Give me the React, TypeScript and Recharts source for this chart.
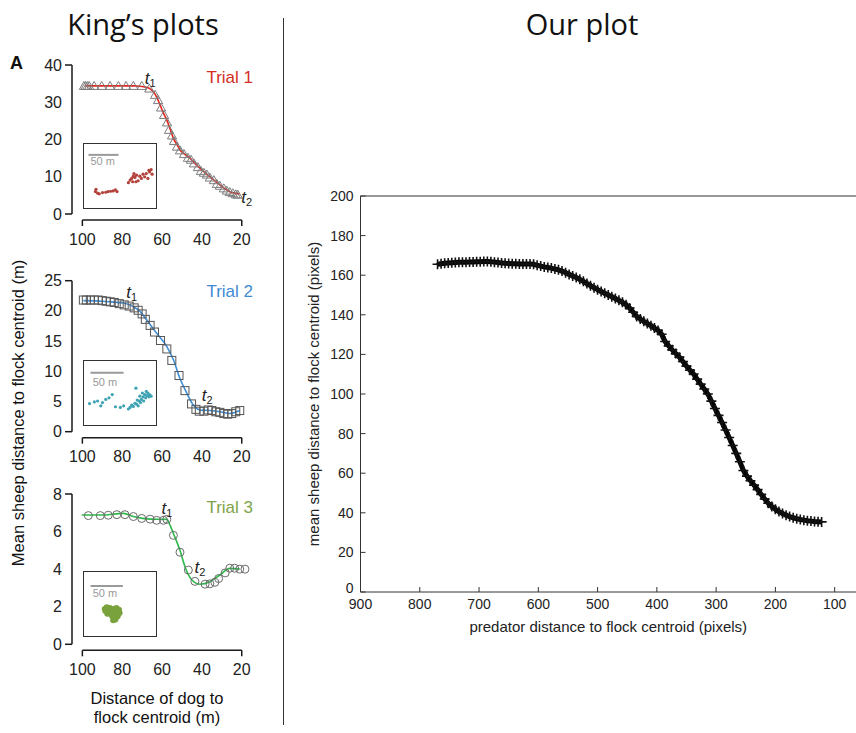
import React from 'react';
import {
  ComposedChart,
  ScatterChart,
  Line,
  Scatter,
  XAxis,
  YAxis,
  ReferenceLine,
  ReferenceDot,
} from 'recharts';

// ---------- King's plots (distance of dog to centroid, m -> mean sheep distance, m)
const kingXTicks = [100, 80, 60, 40, 20];

// trial 1: fitted line + raw points (triangles)
const t1FitX = [98.6, 90, 80, 74, 71, 68, 66, 64.4, 62.5, 61, 59.5, 57.6, 56, 54.3, 52.5, 51, 48.5, 46, 43.5, 41, 38.5, 36, 33.5, 31, 28.5, 26, 23.5, 21];
const t1FitY = [34.4, 34.4, 34.4, 34.4, 34.3, 34.0, 33.6, 32.8, 31.2, 29.3, 27.3, 25.2, 22.9, 20.3, 18.6, 17.2, 16, 15, 13.6, 12.3, 11.1, 10, 8.9, 7.8, 6.8, 6, 5.6, 5.4];
const t1PtsX = [99.2, 98.4, 97.5, 96.6, 94.1, 90.3, 86.1, 81.9, 78.1, 74.4, 70.2, 66.4, 63.5, 62, 60.5, 59, 57.5, 56.5, 55, 54, 52.5, 51, 49, 47, 45.5, 44, 42, 40.5, 39, 37.5, 36, 34, 32.5, 31, 29, 27.5, 26, 24.5, 23, 22];
const t1PtsY = [34.3, 34.3, 34.3, 34.3, 34.3, 34.3, 34.3, 34.3, 34.3, 34.3, 34.3, 33.6, 31.9, 30.5, 28.5, 26.5, 24.5, 22.5, 21, 19.5, 18, 17, 16, 15, 14.5, 13.5, 12.5, 11.5, 11, 10.5, 9.7, 9, 8, 7.5, 6.8, 6.2, 5.8, 5.5, 5.2, 5.1];
const t1YTicks = [0, 10, 20, 30, 40];

// trial 2: fitted line + raw points (squares)
const t2FitX = [99.5, 90, 86, 79.4, 74.4, 71, 67.7, 62.7, 57.6, 54.3, 51, 47.6, 44.3, 41, 36, 31, 26, 21];
const t2FitY = [21.7, 21.6, 21.5, 21.3, 20.7, 19.9, 18.5, 16.3, 14.1, 11.9, 8.8, 6.4, 4.4, 3.6, 3.5, 3.3, 3.0, 3.5];
const t2PtsX = [99.5, 98, 96, 94, 92, 90, 88, 86, 84, 81.5, 79, 76.5, 74, 72, 70, 68.4, 66, 63.8, 60.8, 57.6, 55.1, 51.5, 48.5, 45.2, 43, 41.3, 39, 36.8, 35, 33, 31, 29, 27, 25, 23, 21];
const t2PtsY = [21.8, 21.8, 21.8, 21.8, 21.8, 21.7, 21.6, 21.5, 21.4, 21.2, 21.0, 20.8, 20.5, 20.1, 19.5, 18.6, 17.6, 16.5, 15.1, 13.7, 11.8, 9.3, 6.8, 4.6, 3.7, 3.4, 3.4, 3.6, 3.5, 3.3, 3.2, 3.0, 2.9, 3.0, 3.3, 3.5];
const t2YTicks = [0, 5, 10, 15, 20, 25];

// trial 3: fitted line + raw points (circles)
const t3FitX = [100.3, 90, 79.4, 74.4, 66, 57.6, 56, 54.3, 51, 48.5, 45, 41, 36, 31, 26, 21];
const t3FitY = [6.88, 6.88, 6.97, 6.8, 6.66, 6.65, 6.34, 5.9, 5.0, 4.13, 3.42, 3.2, 3.33, 3.69, 4.04, 4.0];
const t3PtsX = [97, 91, 87, 82.7, 78.6, 74.4, 70.2, 66, 62.7, 59.3, 57.6, 54.3, 51, 46.8, 43.5, 38.4, 36, 33.5, 31.6, 28.3, 26, 23.6, 21, 18.4];
const t3PtsY = [6.85, 6.85, 6.87, 6.9, 6.9, 6.8, 6.7, 6.66, 6.6, 6.6, 6.65, 5.8, 4.9, 3.95, 3.35, 3.2, 3.22, 3.3, 3.5, 3.8, 4.05, 4.05, 4.0, 4.0];
const t3YTicks = [0, 2, 4, 6, 8];

// inset maps (0-100 box units)
const inset1U = [15.8, 16.7, 18.9, 21.2, 25.7, 30.2, 33.3, 36.9, 40.5, 43.7, 45.9, 61.7, 64, 66.2, 67.6, 68.5, 69.4, 70.7, 72.1, 73, 75.2, 77.5, 79.7, 82, 84.2, 86.5, 88.7, 90.1, 91, 93.2, 94.6];
const inset1V = [25.6, 29.2, 23.1, 22.1, 24.1, 24.6, 25.6, 26.2, 26.7, 28.2, 25.6, 39.5, 43.6, 46.2, 41, 49.7, 53.8, 47.7, 41, 51.3, 42.6, 49.7, 46.2, 52.8, 48.7, 53.8, 46.2, 59, 56.4, 60, 52.8];
const inset2U = [7.7, 14.4, 18.9, 23.4, 25.7, 30.2, 34.7, 39.2, 43.7, 50.5, 55, 61.7, 64, 66.2, 68.5, 70.7, 72.1, 73, 73.9, 75.2, 76.6, 77.5, 78.4, 79.7, 81.1, 82, 82.9, 84.2, 85.6, 86.5, 87.4, 88.7, 90.1, 91, 93.2];
const inset2V = [33.5, 36, 37.5, 30, 35, 40, 42.5, 47.5, 28.5, 27.5, 30, 25, 27.5, 31, 29, 34, 57.5, 32.5, 39, 30, 37.5, 45, 35, 40, 50, 44, 37.5, 47.5, 42.5, 52.5, 46, 50, 44, 47.5, 45];
const inset3U = [28.8, 31.5, 33.3, 36, 37.8, 40.5, 42.3, 45, 46.8, 48.6, 49.5, 45.9, 43.7, 41.4, 39.2, 36.9, 34.7, 31.5, 41.4, 43.7, 40.5, 46.8, 32.4, 29.7, 44.1, 38.7];
const inset3V = [42.1, 45.1, 41, 43.6, 38.5, 42.1, 40, 43.6, 38.5, 41, 35.9, 34.9, 31.8, 33.3, 30.8, 34.9, 36.9, 37.9, 28.2, 25.6, 24.6, 30.8, 34.9, 39, 36.9, 35.9];

// ---------- Our plot (pixels)
const predatorDist = [770, 764, 758, 752, 746, 740, 734, 728, 722, 716, 710, 704, 698, 692, 686, 680, 674, 668, 662, 656, 650, 644, 638, 632, 626, 620, 614, 608, 602, 596, 590, 584, 578, 572, 566, 560, 554, 548, 542, 536, 530, 524, 518, 512, 506, 500, 494, 488, 482, 476, 470, 464, 458, 452, 446, 440, 434, 428, 422, 416, 410, 404, 398, 392, 386, 380, 374, 368, 362, 356, 350, 344, 338, 332, 326, 320, 314, 308, 302, 296, 290, 284, 278, 272, 266, 260, 254, 248, 242, 236, 230, 224, 218, 212, 206, 200, 194, 188, 182, 176, 170, 164, 158, 152, 146, 140, 134, 128, 122];
const sheepDist = [165.5, 165.8, 166.0, 166.2, 166.3, 166.4, 166.5, 166.6, 166.6, 166.7, 166.7, 166.8, 166.8, 166.9, 166.9, 166.8, 166.6, 166.4, 166.2, 166.0, 165.9, 165.8, 165.8, 165.7, 165.7, 165.6, 165.6, 165.5, 165.0, 164.6, 164.2, 163.9, 163.6, 163.1, 162.7, 162.1, 161.3, 160.4, 159.6, 158.8, 157.9, 156.9, 155.8, 154.7, 153.7, 152.7, 151.8, 150.9, 150.0, 149.1, 148.2, 147.3, 146.3, 145.1, 143.4, 141.3, 139.2, 137.9, 136.7, 135.6, 134.5, 133.3, 132.1, 130.2, 126.5, 124.3, 122.3, 120.4, 118.6, 116.4, 114.1, 112, 110.1, 107.5, 105, 102.5, 100, 96.4, 92.7, 89.2, 85.6, 81.8, 78, 74, 70, 65.8, 61.4, 58.5, 56.2, 54, 51.7, 49.3, 47, 44.8, 43.2, 41.8, 40.6, 39.7, 38.8, 38.1, 37.5, 37, 36.6, 36.3, 36, 35.8, 35.6, 35.5, 35.4];
const ourXTicks = [900, 800, 700, 600, 500, 400, 300, 200, 100];
const ourYTicks = [0, 20, 40, 60, 80, 100, 120, 140, 160, 180, 200];

type Pt = { x: number; y: number };
const zip = (xs: number[], ys: number[]): Pt[] => xs.map((x, i) => ({ x, y: ys[i] }));

const SANS = '"Liberation Sans", Arial, Helvetica, sans-serif';
const AX = '#1a1a1a';

// left panel geometry
const PANEL_W = 270;
const Y_AXIS_W = 72;
const PLOT_W = 183.7;
const X_AXIS_H = 45;
const X_DOMAIN: [number, number] = [13, 105.2];

const triangle = (p: any) => (
  <path
    d={`M${p.cx},${p.cy - 4.8}L${p.cx + 4.6},${p.cy + 3.2}L${p.cx - 4.6},${p.cy + 3.2}Z`}
    fill="none"
    stroke="#7d7d7d"
    strokeWidth={1}
  />
);
const square = (p: any) => (
  <rect x={p.cx - 4} y={p.cy - 4} width={8} height={8} fill="none" stroke="#555" strokeWidth={1} />
);
const circle = (p: any) => (
  <circle cx={p.cx} cy={p.cy} r={4} fill="none" stroke="#6a6a6a" strokeWidth={1} />
);
const plus = (p: any) => (
  <path
    d={`M${p.cx - 5},${p.cy}h10M${p.cx},${p.cy - 5}v10`}
    stroke="#111"
    strokeWidth={1.6}
  />
);

function TMark({ cx, cy, n }: { cx: number; cy: number; n: string }) {
  return (
    <text x={cx} y={cy} fontFamily={SANS} fontSize={17} fill="#222" textAnchor="middle" dominantBaseline="central">
      <tspan fontStyle="italic">t</tspan>
      <tspan fontSize={11} dy={5}>{n}</tspan>
    </text>
  );
}

interface PanelProps {
  top: number;
  mTop: number;
  plotH: number;
  yMax: number;
  yTicks: number[];
  fit: Pt[];
  pts: Pt[];
  color: string;
  marker: (p: any) => React.ReactElement;
  t1: Pt;
  t2: Pt;
}

function KingPanel({ top, mTop, plotH, yMax, yTicks, fit, pts, color, marker, t1, t2 }: PanelProps) {
  const unit = yMax / plotH;
  const yb = -6 * unit;
  const ye = -12 * unit;
  return (
    <div style={{ position: 'absolute', left: 0, top }}>
      <ComposedChart
        width={PANEL_W}
        height={mTop + plotH + X_AXIS_H}
        margin={{ top: mTop, right: PANEL_W - Y_AXIS_W - PLOT_W, bottom: 0, left: 0 }}
      >
        <XAxis
          type="number"
          dataKey="x"
          domain={X_DOMAIN}
          reversed
          ticks={kingXTicks}
          interval={0}
          height={X_AXIS_H}
          axisLine={false}
          tickLine={false}
          tickSize={0}
          tickMargin={0}
          tick={(p: any) => (
            <text x={p.x} y={p.y + 25} dy="0.35em" textAnchor="middle" fontFamily={SANS} fontSize={16} fill="#222">
              {p.payload.value}
            </text>
          )}
        />
        <YAxis
          type="number"
          dataKey="y"
          domain={[0, yMax]}
          ticks={yTicks}
          interval={0}
          width={Y_AXIS_W}
          axisLine={{ stroke: AX, strokeWidth: 1.5 }}
          tickLine={false}
          tickSize={0}
          tickMargin={0}
          tick={(p: any) => (
            <g>
              {(p.payload.value === 0 || p.payload.value === yMax) && (
                <line x1={p.x} x2={p.x - 7} y1={p.y} y2={p.y} stroke={AX} strokeWidth={1.5} />
              )}
              <text x={p.x - 10} y={p.y} dy="0.35em" textAnchor="end" fontFamily={SANS} fontSize={16} fill="#222">
                {p.payload.value}
              </text>
            </g>
          )}
        />
        <ReferenceLine segment={[{ x: 100, y: yb }, { x: 20, y: yb }]} stroke={AX} strokeWidth={1.5} ifOverflow="visible" />
        <ReferenceLine segment={[{ x: 100, y: yb }, { x: 100, y: ye }]} stroke={AX} strokeWidth={1.5} ifOverflow="visible" />
        <ReferenceLine segment={[{ x: 20, y: yb }, { x: 20, y: ye }]} stroke={AX} strokeWidth={1.5} ifOverflow="visible" />
        <Scatter data={pts} shape={marker} isAnimationActive={false} />
        <Line data={fit} dataKey="y" type="monotone" stroke={color} strokeWidth={1.6} dot={false} isAnimationActive={false} />
        <ReferenceDot x={t1.x} y={t1.y} r={0} ifOverflow="visible" shape={(p: any) => <TMark cx={p.cx} cy={p.cy} n="1" />} />
        <ReferenceDot x={t2.x} y={t2.y} r={0} ifOverflow="visible" shape={(p: any) => <TMark cx={p.cx} cy={p.cy} n="2" />} />
      </ComposedChart>
    </div>
  );
}

function Inset({ top, u, v, color, r, bar, barV, textU, textV }: any) {
  const data = zip(u, v);
  return (
    <div
      style={{
        position: 'absolute',
        left: 83,
        top,
        width: 74,
        height: 66,
        border: '1px solid #333',
        boxSizing: 'border-box',
        background: '#fff',
      }}
    >
      <ScatterChart width={72} height={64} margin={{ top: 0, right: 0, bottom: 0, left: 0 }}>
        <XAxis type="number" dataKey="x" domain={[0, 100]} hide />
        <YAxis type="number" dataKey="y" domain={[0, 100]} hide />
        <ReferenceLine segment={[{ x: bar[0], y: barV }, { x: bar[1], y: barV }]} stroke="#9a9a9a" strokeWidth={2} />
        <ReferenceDot
          x={textU}
          y={textV}
          r={0}
          shape={(p: any) => (
            <text x={p.cx} y={p.cy} dy="0.35em" textAnchor="middle" fontFamily={SANS} fontSize={11} fill="#999">
              50 m
            </text>
          )}
        />
        <Scatter
          data={data}
          isAnimationActive={false}
          shape={(p: any) => <circle cx={p.cx} cy={p.cy} r={r} fill={color} />}
        />
      </ScatterChart>
    </div>
  );
}

function OurPlot() {
  const data = zip(predatorDist, sheepDist);
  const tickText = { fontFamily: SANS, fontSize: 14, fill: '#222' };
  return (
    <div style={{ position: 'absolute', left: 300, top: 170 }}>
      <ComposedChart width={556} height={472} margin={{ top: 25, right: 0, bottom: 0, left: 0 }}>
        <XAxis
          xAxisId="top"
          orientation="top"
          type="number"
          dataKey="x"
          domain={[64, 900]}
          reversed
          ticks={ourXTicks}
          interval={0}
          height={1}
          axisLine={{ stroke: '#333' }}
          tickLine={false}
          tickSize={0}
          tickMargin={0}
          tick={(p: any) => <line x1={p.x} x2={p.x} y1={p.y} y2={p.y + 5} stroke="#333" />}
        />
        <XAxis
          type="number"
          dataKey="x"
          domain={[64, 900]}
          reversed
          ticks={ourXTicks}
          interval={0}
          height={50}
          axisLine={{ stroke: '#333' }}
          tickLine={false}
          tickSize={0}
          tickMargin={0}
          tick={(p: any) => (
            <g>
              <line x1={p.x} x2={p.x} y1={p.y} y2={p.y - 5} stroke="#333" />
              <text x={p.x} y={p.y + 12} dy="0.35em" textAnchor="middle" {...tickText}>
                {p.payload.value}
              </text>
            </g>
          )}
          label={{
            value: 'predator distance to flock centroid (pixels)',
            position: 'insideBottom',
            offset: 10,
            style: { fontFamily: SANS, fontSize: 15, fill: '#222' },
          }}
        />
        <YAxis
          type="number"
          dataKey="y"
          domain={[0, 200]}
          ticks={ourYTicks}
          interval={0}
          width={60.5}
          axisLine={{ stroke: '#333' }}
          tickLine={false}
          tickSize={0}
          tickMargin={0}
          tick={(p: any) => (
            <g>
              <line x1={p.x} x2={p.x + 5} y1={p.y} y2={p.y} stroke="#333" />
              <text x={p.x - 7} y={p.y} dy={p.payload.value === 0 ? '0.1em' : '0.35em'} textAnchor="end" {...tickText}>
                {p.payload.value}
              </text>
            </g>
          )}
          label={{
            value: 'mean sheep distance to flock centroid (pixels)',
            angle: -90,
            position: 'insideLeft',
            offset: 14,
            style: { textAnchor: 'middle', fontFamily: SANS, fontSize: 15, fill: '#222' },
          }}
        />
        {/* overlapping markers form a solid band in the original */}
        <Line data={data} dataKey="y" type="linear" stroke="#000" strokeWidth={5} dot={false} isAnimationActive={false} />
        <Scatter data={data} shape={plus} isAnimationActive={false} />
      </ComposedChart>
    </div>
  );
}

const abs = (s: React.CSSProperties): React.CSSProperties => ({ position: 'absolute', ...s });

export default function App() {
  return (
    <div style={{ position: 'absolute', left: 0, top: 0, width: 856, height: 733, background: '#fff', overflow: 'hidden', fontFamily: SANS }}>
      <div style={abs({ left: 143, top: 4, transform: 'translateX(-50%)', fontFamily: '"Open Sans", sans-serif', fontSize: 29, whiteSpace: 'nowrap', color: '#111' })}>
        King’s plots
      </div>
      <div style={abs({ left: 582, top: 4, transform: 'translateX(-50%)', fontFamily: '"Open Sans", sans-serif', fontSize: 29, whiteSpace: 'nowrap', color: '#111' })}>
        Our plot
      </div>
      <div style={abs({ left: 283, top: 18, width: 1, height: 707, background: '#333' })} />
      <div style={abs({ left: 10, top: 53, fontSize: 18, fontWeight: 'bold', color: '#111' })}>A</div>

      <KingPanel top={0} mTop={65} plotH={149} yMax={40} yTicks={t1YTicks}
        fit={zip(t1FitX, t1FitY)} pts={zip(t1PtsX, t1PtsY)} color="#e3241d" marker={triangle}
        t1={{ x: 66, y: 36.5 }} t2={{ x: 17.5, y: 4.6 }} />
      <KingPanel top={240} mTop={40.7} plotH={151} yMax={25} yTicks={t2YTicks}
        fit={zip(t2FitX, t2FitY)} pts={zip(t2PtsX, t2PtsY)} color="#3d8fdb" marker={square}
        t1={{ x: 75.2, y: 23.2 }} t2={{ x: 37.4, y: 6.1 }} />
      <KingPanel top={460} mTop={34} plotH={150.3} yMax={8} yTicks={t3YTicks}
        fit={zip(t3FitX, t3FitY)} pts={zip(t3PtsX, t3PtsY)} color="#2db84a" marker={circle}
        t1={{ x: 57.6, y: 7.23 }} t2={{ x: 41, y: 4.13 }} />

      <Inset top={143} u={inset1U} v={inset1V} color="#b3413a" r={1.6} bar={[6.2, 48]} barV={83} textU={26} textV={72.8} />
      <Inset top={360} u={inset2U} v={inset2V} color="#3ea3b3" r={1.6} bar={[9, 55]} barV={81.5} textU={29} textV={67.5} />
      <Inset top={571} u={inset3U} v={inset3V} color="#7aa23c" r={3} bar={[9, 54]} barV={78} textU={29} textV={66.7} />

      <div style={abs({ left: 0, width: 253, top: 68, textAlign: 'right', fontSize: 17, color: '#d42e26' })}>Trial 1</div>
      <div style={abs({ left: 0, width: 253, top: 282, textAlign: 'right', fontSize: 17, color: '#3f8ad4' })}>Trial 2</div>
      <div style={abs({ left: 0, width: 253, top: 498, textAlign: 'right', fontSize: 17, color: '#7ea34a' })}>Trial 3</div>

      <div style={abs({ left: 18, top: 413, transform: 'translate(-50%, -50%) rotate(-90deg)', fontSize: 16.5, whiteSpace: 'nowrap', color: '#111' })}>
        Mean sheep distance to flock centroid (m)
      </div>
      <div style={abs({ left: 157, top: 689, transform: 'translateX(-50%)', fontSize: 16.5, lineHeight: '19px', textAlign: 'center', whiteSpace: 'nowrap', color: '#111' })}>
        Distance of dog to
        <br />
        flock centroid (m)
      </div>

      <OurPlot />
    </div>
  );
}
